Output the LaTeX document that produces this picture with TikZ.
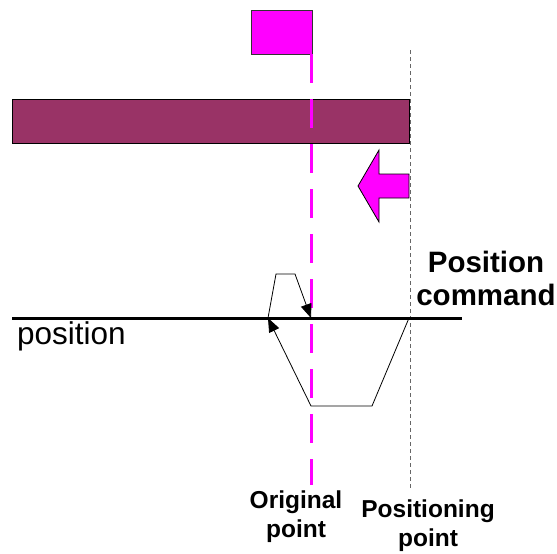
\documentclass[tikz,border=0pt]{standalone}
\usepackage{fontspec}
\setmainfont{Liberation Sans}
\usetikzlibrary{arrows.meta}
\definecolor{flagmag}{HTML}{FF00FF}
\definecolor{barpurple}{HTML}{993366}
\begin{document}
\begin{tikzpicture}[x=1pt,y=-1pt,
  lbl/.style={inner sep=0pt,align=center,font=\fontsize{24.5}{29}\selectfont\bfseries},
  trj/.style={line width=0.8pt,-{Triangle[length=14pt,width=11pt]}}]
\useasboundingbox (0,0) rectangle (557,554);
% flag
\draw[fill=flagmag,draw=black!80,line width=0.8pt] (251,10) rectangle (312,54);
% bar
\draw[fill=barpurple,draw=black,line width=0.8pt] (12,99) rectangle (409,143);
% magenta dashed line
\coordinate (mtop) at (311,54);
\coordinate (mbot) at (311,485);
\draw[flagmag,line width=3pt,dash pattern=on 29pt off 16pt] (mtop) -- (mbot);
% gray dashed line
\coordinate (gtop) at (410,50);
\coordinate (gbot) at (410,488);
\draw[gray!80!black,line width=0.8pt,dash pattern=on 4pt off 3pt] (gtop) -- (gbot);
% block arrow
\draw[fill=flagmag,draw=black,line width=0.8pt]
  (409,174) -- (379,174) -- (379,150) -- (358,186) -- (379,222) -- (379,198) -- (409,198) -- cycle;
% position line
\coordinate (pl) at (12,318);
\coordinate (pr) at (462,318);
\draw[line width=3pt] (pl) -- (pr);
% trajectory
\coordinate (p0) at (409,318);
\coordinate (p1) at (372,406);
\coordinate (p2) at (311,406);
\coordinate (p3) at (268,318);
\coordinate (p4) at (276,274);
\coordinate (p5) at (295,274);
\coordinate (p6) at (311,318);
\draw[trj] (p0) -- (p1) -- (p2) -- (p3);
\draw[trj] (p3) -- (p4) -- (p5) -- (p6);
% labels
\node[anchor=base west,inner sep=0pt,font=\fontsize{31.5}{36}\selectfont] (postxt) at (17,344) {position};
\node[lbl,font=\fontsize{29.5}{33}\selectfont\bfseries] (cmd) at (486,278) {Position\\command};
\node[lbl] (orig) at (296,517) {Original\\point};
\node[lbl] (posit) at (428,526) {Positioning\\point};
\end{tikzpicture}
\end{document}
